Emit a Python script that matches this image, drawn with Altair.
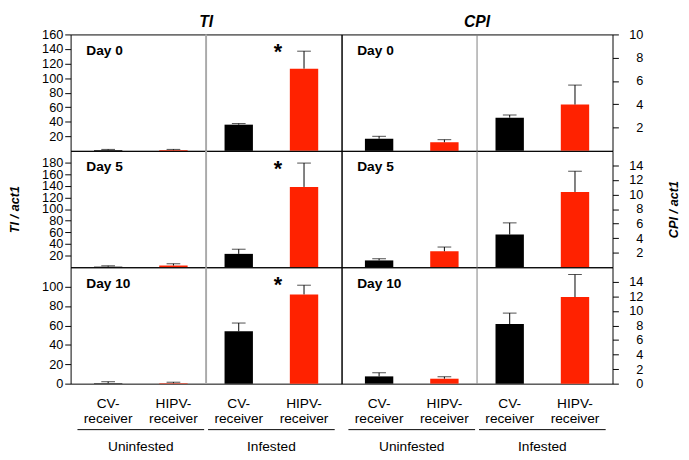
import altair as alt
import pandas as pd

# ---------------- data ----------------
days = ["Day 0", "Day 5", "Day 10"]
group_of_bar = ["Uninfested", "Uninfested", "Infested", "Infested"]
receiver_type = ["CV", "HIPV", "CV", "HIPV"]
receiver_labels = ["CV-\nreceiver", "HIPV-\nreceiver", "CV-\nreceiver", "HIPV-\nreceiver"]
bar_pos = [0.5, 1.5, 2.5, 3.5]

ti_means = [
    [1.0, 1.0, 36.0, 113.0],
    [1.0, 3.0, 23.0, 138.0],
    [0.5, 0.5, 54.0, 92.0],
]
ti_errs = [
    [1.0, 1.0, 1.5, 24.0],
    [1.5, 3.0, 8.0, 41.0],
    [1.5, 1.0, 8.5, 9.5],
]
cpi_means = [
    [1.04, 0.74, 2.85, 3.98],
    [0.94, 2.20, 4.50, 10.35],
    [1.00, 0.68, 8.20, 11.90],
]
cpi_errs = [
    [0.21, 0.22, 0.23, 1.67],
    [0.23, 0.58, 1.60, 2.85],
    [0.50, 0.27, 1.50, 3.10],
]

ti_domains = [[0, 160], [0, 200], [0, 120]]
ti_ticks = [[20, 40, 60, 80, 100, 120, 140, 160],
            [20, 40, 60, 80, 100, 120, 140, 160, 180],
            [0, 20, 40, 60, 80, 100]]
cpi_domains = [[0, 10], [0, 16], [0, 16]]
cpi_ticks = [[2, 4, 6, 8, 10],
             [2, 4, 6, 8, 10, 12, 14],
             [0, 2, 4, 6, 8, 10, 12, 14]]

star_x = 3.1
ti_star_y = [141, 175, 106]

group_names = ["Uninfested", "Infested"]
group_start = [0.03, 2.03]
group_end = [1.97, 3.97]
group_center = [1.0, 3.0]

panel_height = 119
panel_width = 277
FONT = "Liberation Sans"
RED = "#ff2200"


def panel(means, errs, domain, ticks, day, side, row, star_y=None, title=None,
          divider_color="#aaaaaa", divider_w=2):
    h = panel_height
    df = pd.DataFrame({
        "pos": bar_pos,
        "mean": means,
        "err": errs,
        "rtype": receiver_type,
        "group": group_of_bar,
        "label": receiver_labels,
    })
    base = alt.Chart(df).transform_calculate(top="datum.mean + datum.err")
    xscale = alt.Scale(domain=[0, 4], nice=False, zero=False)
    yscale = alt.Scale(domain=domain, nice=False, zero=True)

    show_title = (row == 1)
    if side == "left":
        yaxis = alt.Axis(orient="left", values=ticks, tickSize=6, tickColor="black",
                         labelColor="black", labelFontSize=13, labelFont=FONT, labelPadding=2,
                         labelOverlap=False,
                         domain=False, grid=False, title="TI / act1",
                         titleColor="black" if show_title else "white",
                         titleFont=FONT, titleFontSize=13, titleFontStyle="italic",
                         titleFontWeight="bold", titlePadding=17, minExtent=33, maxExtent=33)
    else:
        yaxis = alt.Axis(orient="right", values=ticks, tickSize=6, tickColor="black",
                         labelColor="black", labelFontSize=13, labelFont=FONT, labelPadding=25,
                         labelAlign="right", labelOverlap=False,
                         domain=False, grid=False, title="CPI / act1",
                         titleColor="black" if show_title else "white",
                         titleFont=FONT, titleFontSize=13, titleFontStyle="italic",
                         titleFontWeight="bold", titleAngle=270, titleBaseline="top",
                         titlePadding=25, minExtent=31, maxExtent=31)

    def X(field):
        return alt.X(field, scale=xscale, axis=None)

    def Y(field):
        return alt.Y(field, scale=yscale, axis=yaxis)

    divider = alt.Chart(pd.DataFrame({"pos": [2.0]})).mark_rule(
        color=divider_color, strokeWidth=divider_w).encode(x=X("pos:Q"))

    bars = base.mark_bar(size=29).encode(
        x=X("pos:Q"),
        y=Y("mean:Q"),
        color=alt.Color("rtype:N", scale=alt.Scale(domain=["CV", "HIPV"], range=["#000000", RED]),
                        legend=None),
    )
    err = base.mark_rule(color="black", strokeWidth=1).encode(
        x=X("pos:Q"), y=Y("mean:Q"), y2="top:Q")
    cap = base.mark_tick(orient="horizontal", size=14, thickness=1, color="black").encode(
        x=X("pos:Q"), y=Y("top:Q"))

    daylab = alt.Chart(pd.DataFrame({"t": [day]})).mark_text(
        align="left", baseline="middle", fontSize=14, fontWeight="bold", font=FONT, color="black"
    ).encode(x=alt.value(16), y=alt.value(17), text="t:N")

    layers = [bars, divider, err, cap, daylab]

    if star_y is not None:
        star = alt.Chart(pd.DataFrame({"pos": [star_x], "y": [star_y], "t": ["*"]})).mark_text(
            fontSize=22, fontWeight="bold", baseline="middle", dy=4, font=FONT, color="black"
        ).encode(x=X("pos:Q"), y=Y("y:Q"), text="t:N")
        layers.append(star)

    if row == 2:
        labels = base.mark_text(lineBreak="\n", baseline="top", fontSize=14, lineHeight=15,
                                font=FONT, color="black").encode(
            x=X("pos:Q"), y=alt.value(h + 14), text="label:N")
        gdf = pd.DataFrame({"name": group_names, "start": group_start, "end": group_end,
                            "center": group_center})
        grule = alt.Chart(gdf).mark_rule(color="black", strokeWidth=1).encode(
            x=X("start:Q"), x2="end:Q", y=alt.value(h + 47))
        gtext = alt.Chart(gdf).mark_text(baseline="middle", fontSize=14, font=FONT,
                                         color="black").encode(
            x=X("center:Q"), y=alt.value(h + 65), text="name:N")
        layers += [labels, grule, gtext]

    ch = alt.layer(*layers).properties(width=panel_width, height=h)
    if title is not None:
        ch = ch.properties(title=alt.TitleParams(title, fontSize=16, font=FONT, fontStyle="italic",
                                                 fontWeight="bold", anchor="middle", frame="group",
                                                 offset=-1, color="black"))
    return ch


panels = []
for r in range(3):
    panels.append(panel(ti_means[r], ti_errs[r], ti_domains[r], ti_ticks[r], days[r], "left", r,
                        star_y=ti_star_y[r], title="TI" if r == 0 else None,
                        divider_color="#aaaaaa", divider_w=2))
    panels.append(panel(cpi_means[r], cpi_errs[r], cpi_domains[r], cpi_ticks[r], days[r], "right", r,
                        title="CPI" if r == 0 else None, divider_color="#808080", divider_w=1))

chart = alt.concat(*panels, columns=2, spacing=0, bounds="flush").properties(
    padding={"left": 0, "top": 0, "right": 0, "bottom": 0}
).configure(font=FONT).configure_view(stroke="black", strokeWidth=1)

chart.save("out.html", embed_options={"renderer": "svg", "actions": False})
